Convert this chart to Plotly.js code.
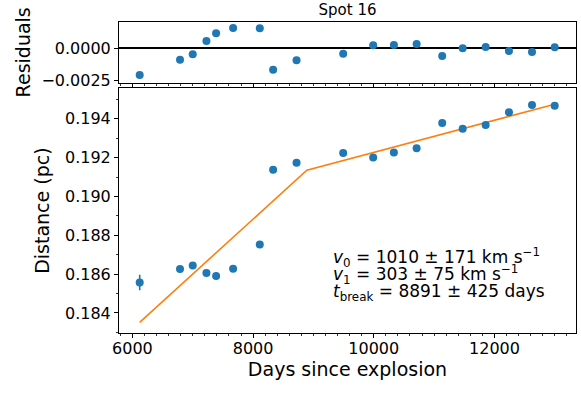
<!DOCTYPE html>
<html>
<head>
<meta charset="utf-8">
<script src="https://cdn.plot.ly/plotly-3.0.1.min.js"></script>
<style>html,body{margin:0;padding:0;background:#fff;}#chart{width:581px;height:396px;}</style>
</head>
<body>
<div id="chart"></div>
<script>
// Data
const days = [6121, 6789, 7000, 7227, 7387, 7669, 8111, 8332, 8720, 9493, 9990, 10333, 10710, 11134, 11473, 11854, 12240, 12622, 12998];
const distance = [0.18557, 0.18626, 0.18645, 0.18606, 0.18590, 0.18628, 0.18753, 0.19137, 0.19174, 0.19223, 0.19200, 0.19226, 0.19248, 0.19378, 0.19348, 0.19368, 0.19433, 0.19471, 0.19467];
const distanceErr = [0.0004, 0.0001, 0.0001, 0.0001, 0.0001, 0.0001, 0.0001, 0.0001, 0.0001, 0.0001, 0.0001, 0.0001, 0.0001, 0.0001, 0.0001, 0.0001, 0.0001, 0.0001, 0.0001];
const residuals = [-0.00206, -0.00088, -0.00046, 0.00056, 0.00116, 0.00157, 0.00154, -0.00165, -0.00093, -0.00042, 0.00023, 0.00025, 0.00033, -0.00059, 0.00000, 0.00010, -0.00021, -0.00029, 0.00008];
const fitDays = [6121, 8891, 12998];
const fitDistance = [0.18352, 0.19135, 0.19475];
const fitText = [
  '<i>v</i><sub>0</sub> = 1010 ± 171 km s<sup>−1</sup>',
  '<i>v</i><sub>1</sub> = 303 ± 75 km s<sup>−1</sup>',
  '<i>t</i><sub>break</sub> = 8891 ± 425 days'
];
const titleText = 'Spot 16';

const BLUE = '#1f77b4', ORANGE = '#ff7f0e';
const FONT = 'DejaVu Sans';

const traces = [
  {x: fitDays, y: fitDistance, type: 'scatter', mode: 'lines', xaxis: 'x', yaxis: 'y',
   line: {color: ORANGE, width: 1.6}, hoverinfo: 'skip'},
  {x: days, y: distance, type: 'scatter', mode: 'markers', xaxis: 'x', yaxis: 'y',
   marker: {color: BLUE, size: 8},
   error_y: {type: 'data', array: distanceErr, visible: true, color: BLUE, thickness: 1.6, width: 0}},
  {x: days, y: residuals, type: 'scatter', mode: 'markers', xaxis: 'x2', yaxis: 'y2',
   marker: {color: BLUE, size: 8}}
];

const axCommon = {
  showline: true, linecolor: 'black', linewidth: 1, mirror: true,
  ticks: 'outside', ticklen: 4, tickwidth: 1, tickcolor: 'black',
  showgrid: false, zeroline: false,
  tickfont: {family: FONT, size: 16, color: 'black'}
};
const xMinor = {dtick: 200, tick0: 0, ticklen: 2, tickwidth: 0.8, tickcolor: 'black', ticks: 'outside', showgrid: false};

const layout = {
  width: 581, height: 396,
  margin: {l: 119, r: 5, t: 22, b: 63},
  paper_bgcolor: 'white', plot_bgcolor: 'white',
  showlegend: false,
  font: {family: FONT, color: 'black'},
  title: {text: titleText, font: {family: FONT, size: 15, color: 'black'},
          x: 0.5, xref: 'paper', y: 1 - 10/396, yref: 'container', yanchor: 'middle'},
  xaxis: Object.assign({}, axCommon, {
    domain: [0, 1], anchor: 'y', range: [5778, 13351], tick0: 0, dtick: 2000, tickformat: 'd',
    ticklabelstandoff: -3,
    minor: xMinor,
    title: {text: 'Days since explosion', font: {family: FONT, size: 19, color: 'black'}, standoff: 4}
  }),
  xaxis2: Object.assign({}, axCommon, {
    domain: [0, 1], anchor: 'y2', matches: 'x', range: [5778, 13351], tick0: 0, dtick: 2000, tickformat: 'd',
    minor: xMinor, showticklabels: false
  }),
  yaxis: Object.assign({}, axCommon, {
    domain: [0, 0.787], anchor: 'x', range: [0.18297, 0.19557], tick0: 0, dtick: 0.002, tickformat: '.3f',
    minor: {dtick: 0.001, tick0: 0, ticklen: 2, tickwidth: 0.8, tickcolor: 'black', ticks: 'outside', showgrid: false},
    title: {text: 'Distance (pc)', font: {family: FONT, size: 19, color: 'black'}, standoff: 10}
  }),
  yaxis2: Object.assign({}, axCommon, {
    domain: [0.805, 1], anchor: 'x2', range: [-0.00265, 0.00203],
    tickvals: [-0.0025, 0], tickformat: '.4f',
    zeroline: true, zerolinecolor: 'black', zerolinewidth: 2,
    title: {text: 'Residuals', font: {family: FONT, size: 19, color: 'black'}, standoff: 5}
  }),
  annotations: fitText.map((t, i) => ({
    text: t, xref: 'paper', yref: 'paper', x: 0.464, xanchor: 'left',
    y: (333 - (257 + i * 17.5)) / 311, yanchor: 'middle', showarrow: false,
    font: {family: FONT, size: 17, color: 'black'}
  }))
};

Plotly.newPlot('chart', traces, layout, {displayModeBar: false, staticPlot: true});
</script>
</body>
</html>
